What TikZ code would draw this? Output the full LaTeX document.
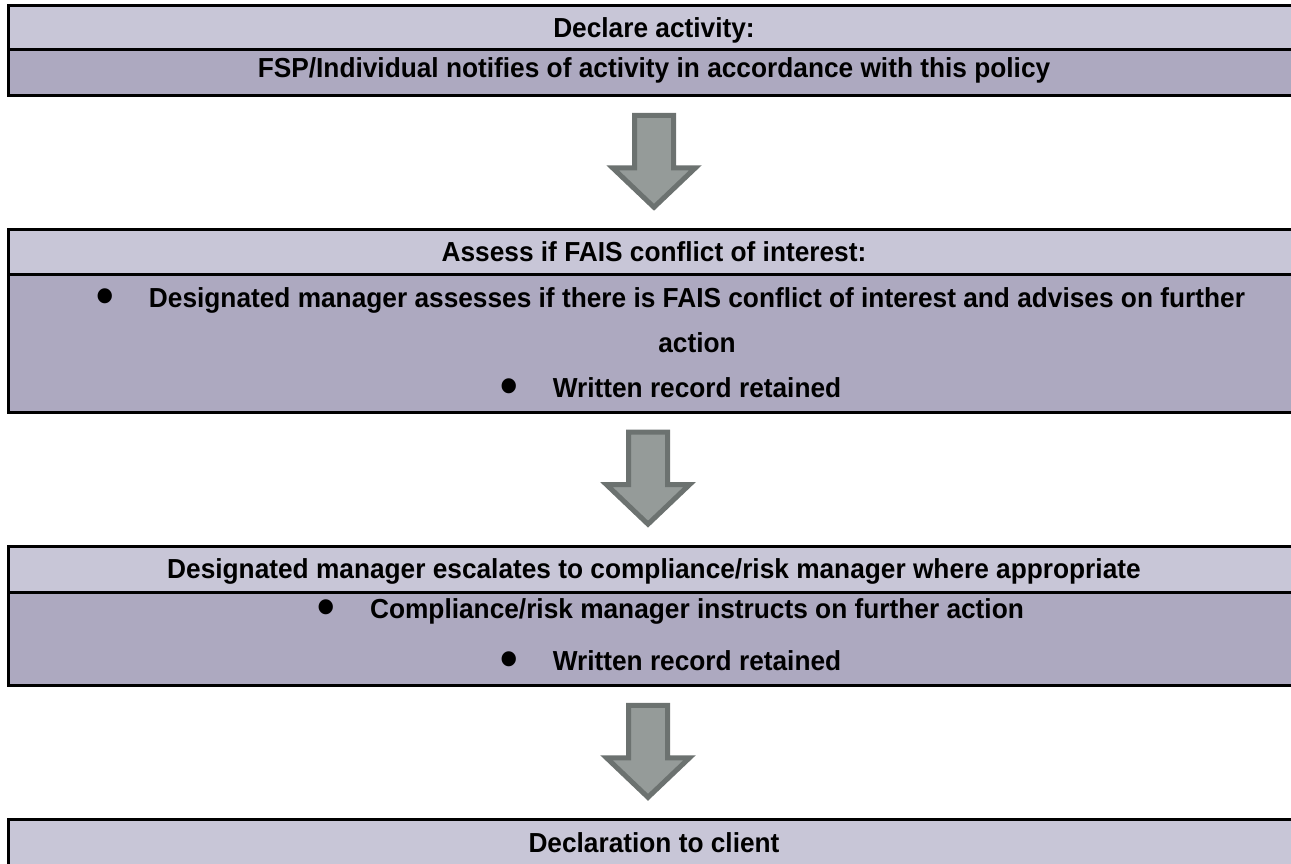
\documentclass[tikz,border=0pt]{standalone}
\usepackage{fontspec}
\setmainfont{Liberation Sans}[FakeStretch=0.955]
\usetikzlibrary{positioning,calc}

\definecolor{headfill}{RGB}{200,198,215}
\definecolor{bodyfill}{RGB}{173,169,192}
\definecolor{arrowfill}{RGB}{149,155,153}
\definecolor{arrowedge}{RGB}{108,114,112}

% bullet hanging left of the line
\newcommand{\bul}{\llap{\raisebox{-6pt}{\scalebox{1.9}{•}}\hspace{35pt}}}

\tikzset{
	row/.style={draw=black, line width=3pt, minimum width=1292pt, inner sep=0pt, outer sep=0pt,
		font=\fontsize{27.5}{45}\selectfont\bfseries, text height=19.7pt, text depth=0pt},
	headrow/.style={row, fill=headfill, minimum height=45pt},
	bodyrow/.style={row, fill=bodyfill},
	bodytext/.style={font=\fontsize{27.5}{45}\selectfont\bfseries, align=center, inner sep=0pt, anchor=base},
	arrowbody/.style={draw=arrowedge, fill=arrowfill, line width=5pt, line join=miter},
	pics/downarrow/.style={code={
		\draw[arrowbody] (-19.5,-47) -- (19.5,-47) -- (19.5,5.5) -- (41.5,5.5) -- (0,45)
			-- (-41.5,5.5) -- (-19.5,5.5) -- cycle;
	}}
}

\begin{document}
\begin{tikzpicture}[x=1pt, y=-1pt]
		\useasboundingbox (0,0) rectangle (1291,863);

		% Box 1
		\node[headrow, minimum height=44.5pt, anchor=north] (b1head) at (654,5) {Declare activity:};
		\node[bodyrow, minimum height=46pt, text depth=8.9pt, below=0pt of b1head] (b1body)
			{FSP/Individual notifies of activity in accordance with this policy};

		% Box 2 (base anchor sits on the last line)
		\node[headrow, below=133.5pt of b1body] (b2head) {Assess if FAIS conflict of interest:};
		\node[bodyrow, minimum height=138.3pt, below=0pt of b2head] (b2body) {};
		\node[bodytext] (b2text) at ($(b2body.north)+(43,123)$)
			{\bul Designated manager assesses if there is FAIS conflict of interest and advises on further\\
			action\\
			\bul Written record retained};

		% Box 3
		\node[headrow, minimum height=46pt, below=133.7pt of b2body] (b3head)
			{Designated manager escalates to compliance/risk manager where appropriate};
		\node[bodyrow, minimum height=93.3pt, below=0pt of b3head] (b3body) {};
		\node[bodytext] (b3text) at ($(b3body.north)+(43,78.3)$)
			{\bul Compliance/risk manager instructs on further action\\[7pt]
			\bul Written record retained};

		% Box 4 (runs off the page)
		\node[headrow, minimum height=46pt, below=134pt of b3body] (b4head) {Declaration to client};

		% Arrows between the boxes
		\pic at ($(b1body.south)!0.5!(b2head.north)$) {downarrow};
		\pic at ($(b2body.south)!0.5!(b3head.north)+(-6,0)$) {downarrow};
		\pic at ($(b3body.south)!0.5!(b4head.north)+(-6,0)$) {downarrow};
	\end{tikzpicture}
\end{document}
